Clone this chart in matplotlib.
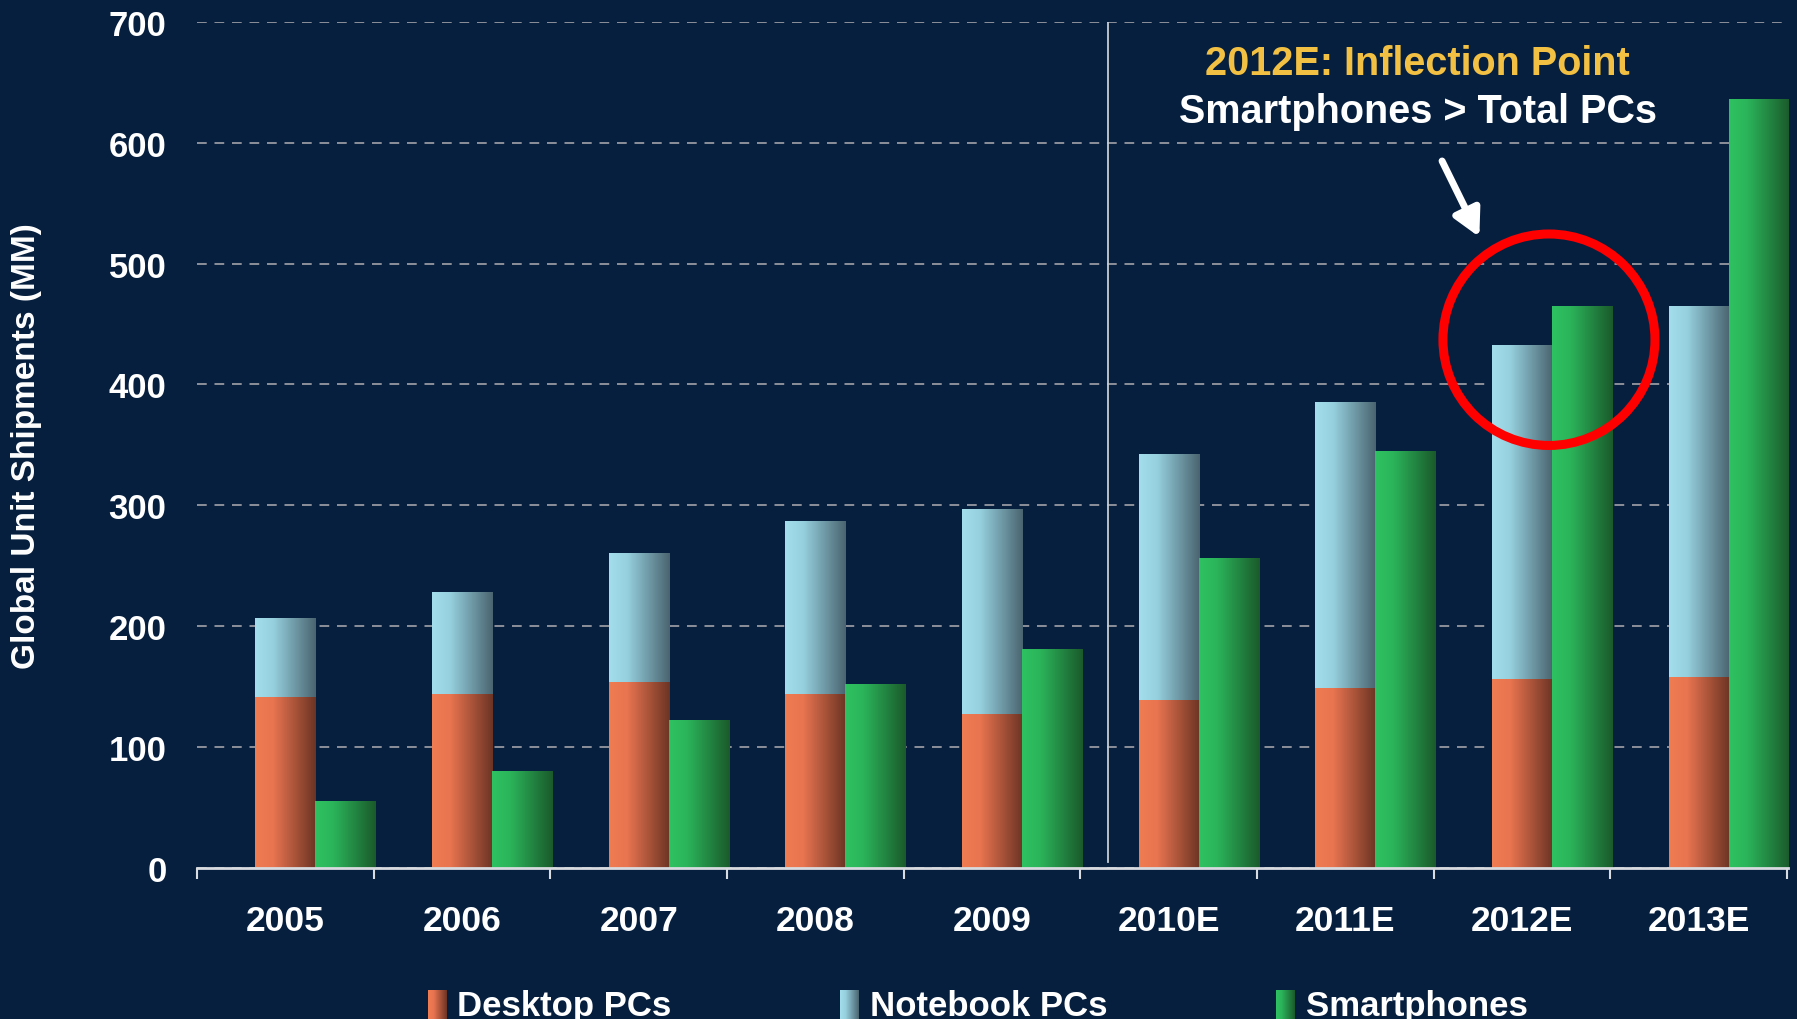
import numpy as np
import matplotlib
matplotlib.use("Agg")
import matplotlib.pyplot as plt
from matplotlib.colors import LinearSegmentedColormap
from matplotlib.patches import Ellipse

years = ['2005', '2006', '2007', '2008', '2009', '2010E', '2011E', '2012E', '2013E']
desktop = [141, 144, 154, 144, 127, 139, 149, 156, 158]
notebook = [65, 84, 106, 143, 169, 203, 236, 276, 307]
smartphones = [55, 80, 122, 152, 181, 256, 345, 465, 636]

bg = '#061f3f'
plt.rcParams['font.family'] = ['Liberation Sans', 'DejaVu Sans']
plt.rcParams['font.weight'] = 'bold'

cmaps = {
    'desk': LinearSegmentedColormap.from_list('desk', [(0, '#f07c52'), (0.3, '#e87450'), (1, '#6c3424')]),
    'note': LinearSegmentedColormap.from_list('note', [(0, '#a3deec'), (0.3, '#96d0de'), (1, '#4a6470')]),
    'smart': LinearSegmentedColormap.from_list('smart', [(0, '#2ec262'), (0.3, '#2bb45a'), (1, '#1a5a2b')]),
}
grad = np.linspace(0, 1, 256).reshape(1, -1)

fig = plt.figure(figsize=(17.97, 10.2), dpi=100, facecolor=bg)
ax = fig.add_axes([0.1096, 0.1483, 0.8854, 0.8292])
ax.set_facecolor(bg)

x = np.arange(len(years))
w = 0.34
b1 = ax.bar(x, desktop, w, color='none', zorder=2)
b2 = ax.bar(x, notebook, w, bottom=desktop, color='none', zorder=2)
b3 = ax.bar(x + w, smartphones, w, color='none', zorder=2)


def paint(bars, cmap):
    for p in bars:
        x0, y0 = p.get_x(), p.get_y()
        ax.imshow(grad, extent=[x0, x0 + p.get_width(), y0, y0 + p.get_height()],
                  aspect='auto', cmap=cmap, zorder=2, interpolation='bilinear')


paint(b1, cmaps['desk'])
paint(b2, cmaps['note'])
paint(b3, cmaps['smart'])

ax.set_xlim(-0.5, 8.5 + 0.005)
ax.set_ylim(0, 700)

# grid + separator
ax.set_yticks(range(0, 701, 100))
ax.yaxis.grid(True, linestyle=(0, (5, 4)), color='#8c9099', linewidth=1.4, zorder=0)
ax.set_axisbelow(True)
ax.plot([4.655, 4.655], [5, 700], color='#c8ccd2', linewidth=1.3, zorder=1)

for s in ['top', 'right', 'left']:
    ax.spines[s].set_visible(False)
ax.spines['bottom'].set_color('#d8dbe0')
ax.spines['bottom'].set_linewidth(2)
ax.spines['bottom'].set_zorder(3)

ax.set_xticks(x)
ax.set_xticklabels(years)
ax.set_xticks(np.arange(-0.5, 9, 1), minor=True)
ax.tick_params(axis='x', which='major', length=0, pad=26, labelsize=25.5, labelcolor='white')
ax.tick_params(axis='x', which='minor', length=8, width=1.5, color='#d8dbe0', direction='out')
ax.tick_params(axis='y', length=0, pad=22, labelsize=25, labelcolor='white')

ax.set_ylabel('Global Unit Shipments (MM)', color='white', fontsize=24, fontweight='bold', labelpad=48)

# annotation
ax.text(6.41, 666, '2012E: Inflection Point', color='#f2c042', fontsize=28.5, fontweight='bold',
        ha='center', va='center')
ax.text(6.41, 626, 'Smartphones > Total PCs', color='white', fontsize=28.5, fontweight='bold',
        ha='center', va='center')
ax.annotate('', xy=(6.765, 520), xytext=(6.54, 587),
            arrowprops=dict(arrowstyle='-|>,head_length=1.6,head_width=0.85', color='white', lw=5))
ax.add_patch(Ellipse((7.152, 437), 1.2, 175, fill=False, edgecolor='#ff0000', linewidth=6.5, zorder=5))

# legend
legend_items = [('Desktop PCs', 'desk', 0.238), ('Notebook PCs', 'note', 0.4675), ('Smartphones', 'smart', 0.710)]
for label, key, fx in legend_items:
    lax = fig.add_axes([fx, 0.0, 0.0105, 0.028])
    lax.imshow(grad, aspect='auto', cmap=cmaps[key], extent=[0, 1, 0, 1])
    lax.axis('off')
    fig.text(fx + 0.0165, 0.0135, label, color='white', fontsize=25, fontweight='bold',
             ha='left', va='center')

fig.savefig('out.png', dpi=100, facecolor=bg)
